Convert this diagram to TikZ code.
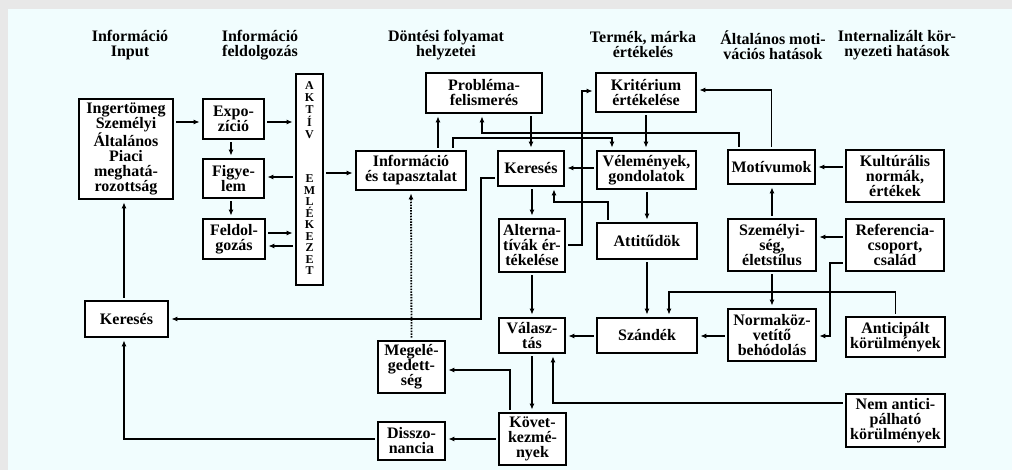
\documentclass[tikz,border=0pt]{standalone}
\usepackage{fontspec}
\setmainfont{Liberation Serif}
\usetikzlibrary{arrows.meta,calc}
\definecolor{bgcyan}{RGB}{241,253,254}
\definecolor{bggray}{RGB}{232,232,232}
\tikzset{
  box/.style={draw, line width=1.7pt, fill=white, inner sep=0pt, align=center,
    font=\fontsize{16}{15}\selectfont\bfseries},
  head/.style={align=center, inner sep=0pt, font=\fontsize{16}{15}\selectfont\bfseries},
  vleta/.style={align=center, inner sep=0pt, font=\fontsize{12}{12.2}\selectfont\bfseries},
  vletb/.style={align=center, inner sep=0pt, font=\fontsize{12}{11.5}\selectfont\bfseries},
  arr/.style={line width=1.4pt, -{Latex[length=6pt,width=5pt]}, shorten >=2.5pt, shorten <=2.5pt},
  dotarr/.style={arr, line width=1.8pt, dash pattern=on 1.5pt off 1.3pt}
}
\begin{document}
\begin{tikzpicture}[x=1pt,y=-1pt]
\useasboundingbox (0,0) rectangle (1012,470);
\fill[bggray] (0,0) rectangle (1012,470);
\fill[bgcyan] (8,9) rectangle (1012,470);

% headings
\node[head] (h1) at (130,45) {Információ\\Input};
\node[head] (h2) at (260,45) {Információ\\feldolgozás};
\node[head] (h3) at (446,45) {Döntési folyamat\\helyzetei};
\node[head] (h4) at (643,45) {Termék, márka\\értékelés};
\node[head] (h5) at (773,45) {Általános moti-\\vációs hatások};
\node[head] (h6) at (897,45) {Internalizált kör-\\nyezeti hatások};

% boxes
\node[box, minimum width=94pt, minimum height=100pt] (ing) at (126,149) {Ingertömeg\\Személyi\\Általános\\Piaci\\meghatá-\\rozottság};
\node[box, minimum width=61pt, minimum height=40pt] (expo) at (233.5,119) {Expo-\\zíció};
\node[box, minimum width=61pt, minimum height=39pt] (figy) at (233.5,178.5) {Figye-\\lem};
\node[box, minimum width=62pt, minimum height=40pt] (feld) at (234,239) {Feldol-\\gozás};
\node[box, minimum width=27pt, minimum height=211pt] (aktiv) at (309.5,179.5) {};
\node[vleta] (akt1) at (aktiv.center |- 0,110) {A\\K\\T\\Í\\V};
\node[vletb] (akt2) at (aktiv.center |- 0,225) {E\\M\\L\\É\\K\\E\\Z\\E\\T};
\node[box, minimum width=110pt, minimum height=39pt] (info) at (411,170.5) {Információ\\és tapasztalat};
\node[box, minimum width=116pt, minimum height=40pt] (prob) at (484,93) {Probléma-\\felismerés};
\node[box, minimum width=66pt, minimum height=35pt] (ker2) at (531,168.5) {Keresés};
\node[box, minimum width=100pt, minimum height=39pt] (krit) at (646,92.5) {Kritérium\\értékelése};
\node[box, minimum width=99pt, minimum height=38pt] (vel) at (646.5,170) {Vélemények,\\gondolatok};
\node[box, minimum width=87pt, minimum height=34pt] (motiv) at (771.5,167) {Motívumok};
\node[box, minimum width=98pt, minimum height=52pt] (kult) at (895,176) {Kultúrális\\normák,\\értékek};
\node[box, minimum width=88pt, minimum height=52pt] (szem) at (772,245) {Személyi-\\ség,\\életstílus};
\node[box, minimum width=98pt, minimum height=52pt] (ref) at (895,245) {Referencia-\\csoport,\\család};
\node[box, minimum width=66pt, minimum height=53pt] (alt) at (532,245.5) {Alterna-\\tívák ér-\\tékelése};
\node[box, minimum width=100pt, minimum height=36pt] (att) at (647,241) {Attitűdök};
\node[box, minimum width=66pt, minimum height=35pt] (val) at (532,335.5) {Válasz-\\tás};
\node[box, minimum width=100pt, minimum height=35pt] (szand) at (647,335.5) {Szándék};
\node[box, minimum width=88pt, minimum height=52pt] (norma) at (772,335) {Normaköz-\\vetítő\\behódolás};
\node[box, minimum width=99pt, minimum height=40pt] (antic) at (895.5,337) {Anticipált\\körülmények};
\node[box, minimum width=99pt, minimum height=53pt] (nemantic) at (895.5,420.5) {Nem antici-\\pálható\\körülmények};
\node[box, minimum width=83pt, minimum height=36pt] (ker1) at (126.5,319) {Keresés};
\node[box, minimum width=67pt, minimum height=52pt] (megel) at (411.5,367) {Megelé-\\gedett-\\ség};
\node[box, minimum width=67pt, minimum height=38pt] (diss) at (411.5,441) {Disszo-\\nancia};
\node[box, minimum width=67pt, minimum height=52pt] (kov) at (532.5,439) {Követ-\\kezmé-\\nyek};

% connectors: information processing
\draw[arr] (ing.east |- 0,122) -- (expo.west |- 0,122);
\draw[arr] (expo.east |- 0,122) -- (aktiv.west |- 0,122);
\draw[arr] (expo.south -| 231,0) -- (figy.north -| 231,0);
\draw[arr] (aktiv.west |- 0,177) -- (figy.east |- 0,177);
\draw[arr] (figy.south -| 231,0) -- (feld.north -| 231,0);
\draw[arr] (feld.east |- 0,233) -- (aktiv.west |- 0,233);
\draw[arr] (aktiv.west |- 0,246) -- (feld.east |- 0,246);
\draw[arr] (aktiv.east |- 0,173) -- (info.west |- 0,173);

% left side
\draw[arr] (ker1.north -| 124,0) -- (ing.south -| 124,0);
\draw[arr] (ker2.west |- 0,178) -- ++(-16,0) |- (ker1.east |- 0,319);
\draw[arr] (kov.west |- 0,439) -- (diss.east |- 0,439);
\draw[arr] (diss.west |- 0,439) -| (ker1.south -| 124,0);
\draw[arr] (kov.north -| 510,0) |- (megel.east |- 0,370);
\draw[dotarr] (megel.north) -- (info.south);

% decision process
\draw[arr] (info.north -| 438,0) -- (prob.south -| 438,0);
\draw[arr] (prob.south -| ker2.north) -- (ker2.north);
\draw[arr] (info.north -| 453,0) |- (612,138) -- (vel.north -| 612,0);
\draw[arr] (motiv.north -| 739,0) |- (482,133) -- (prob.south -| 482,0);
\draw[arr] (motiv.north) |- (krit.east |- 0,90);
\draw[arr] (krit.south) -- (vel.north -| krit.south);
\draw[arr] (vel.west |- 0,168) -- (ker2.east |- 0,168);
\draw[arr] (vel.south -| 647,0) -- (att.north);
\draw[arr] (att.north -| 608,0) |- (554,202) -- (ker2.south -| 554,0);
\draw[arr] (ker2.south -| 532,0) -- (alt.north);
\draw[arr] (alt.east |- 0,245) -- ++(16,0) |- (krit.west |- 0,91);
\draw[arr] (alt.south) -- (val.north);
\draw[arr] (val.south) -- (kov.north -| val.south);
\draw[arr] (nemantic.west |- 0,403) -| (val.south -| 553,0);

% right side
\draw[arr] (att.south) -- (szand.north);
\draw[arr] (szand.west |- 0,336) -- (val.east |- 0,336);
\draw[arr] (norma.west |- 0,336) -- (szand.east |- 0,336);
\draw[arr] (antic.north) -- (antic.north |- 0,292) -| (szand.north -| 669,0);
\draw[arr] (szem.south) -- (norma.north);
\draw[arr] (szem.north) -- (motiv.south -| szem.north);
\draw[arr] (kult.west |- 0,167) -- (motiv.east |- 0,167);
\draw[arr] (ref.west |- 0,237) -- (szem.east |- 0,237);
\draw[arr] (ref.west |- 0,263) -- ++(-15,0) |- (norma.east |- 0,336);
\end{tikzpicture}
\end{document}
